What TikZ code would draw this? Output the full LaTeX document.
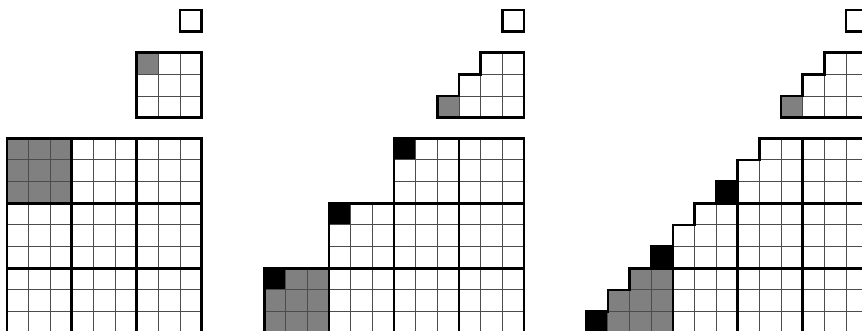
\documentclass[tikz,border=0pt]{standalone}
\begin{document}
\begin{tikzpicture}[x=0.75pt,y=-0.75pt,
  thinl/.style={line width=0.7pt, draw=black!70},
  thickl/.style={line width=2pt, draw=black, line join=miter},
  grayc/.style={fill=black!50},
  blackc/.style={fill=black},
  cellunit/.style={x=16.2375pt,y=-16.2375pt}]
\useasboundingbox (0,0) rectangle (862,331);
\clip (0,0) rectangle (862,331);

% ---------------- Panel 1 ----------------
\begin{scope}[shift={(180.05,10)},cellunit]
  \draw[thickl] (0,0) rectangle (1,1);
\end{scope}
\begin{scope}[shift={(136.75,52.7)},cellunit]
  \fill[grayc] (0,0) rectangle (1,1);
  \foreach \i in {1,2}{\draw[thinl] (\i,0)--(\i,3); \draw[thinl] (0,\i)--(3,\i);}
  \draw[thickl] (0,0) rectangle (3,3);
\end{scope}
\begin{scope}[shift={(6.85,138.3)},cellunit]
  \fill[grayc] (0,0) rectangle (3,3);
  \foreach \i in {1,...,8}{\draw[thinl] (\i,0)--(\i,9); \draw[thinl] (0,\i)--(9,\i);}
  \foreach \i in {3,6}{\draw[thickl] (\i,0)--(\i,9); \draw[thickl] (0,\i)--(9,\i);}
  \draw[thickl] (0,0) rectangle (9,9);
\end{scope}

% ---------------- Panel 2 ----------------
\begin{scope}[shift={(502.35,10)},cellunit]
  \draw[thickl] (0,0) rectangle (1,1);
\end{scope}
\begin{scope}[shift={(437.4,52.7)},cellunit]
  \fill[grayc] (0,2) rectangle (1,3);
  \draw[thinl] (1,2)--(1,3) (2,1)--(2,3) (3,0)--(3,3) (2,1)--(4,1) (1,2)--(4,2);
  \draw[thickl] (4,0)--(2,0)--(2,1)--(1,1)--(1,2)--(0,2)--(0,3)--(4,3)--cycle;
\end{scope}
\begin{scope}[shift={(264.2,138.3)},cellunit]
  \fill[grayc] (0,6) rectangle (3,9);
  \fill[blackc] (0,6) rectangle (1,7);
  \fill[blackc] (3,3) rectangle (4,4);
  \fill[blackc] (6,0) rectangle (7,1);
  \foreach \r in {0,...,8}{
    \pgfmathtruncatemacro{\cz}{3*(2-floor(\r/3))}
    \foreach \c in {\cz,...,11}{\draw[thinl] (\c,\r) rectangle ++(1,1);}
  }
  \draw[thickl] (6,3)--(6,9) (9,0)--(9,9) (3,6)--(3,9) (6,3)--(12,3) (3,6)--(12,6);
  \draw[thickl] (12,0)--(6,0)--(6,3)--(3,3)--(3,6)--(0,6)--(0,9)--(12,9)--cycle;
\end{scope}

% ---------------- Panel 3 ----------------
\begin{scope}[shift={(846.05,10)},cellunit]
  \draw[thickl] (0,0) rectangle (1,1);
\end{scope}
\begin{scope}[shift={(781.1,52.7)},cellunit]
  \fill[grayc] (0,2) rectangle (1,3);
  \draw[thinl] (1,2)--(1,3) (2,1)--(2,3) (3,0)--(3,3) (2,1)--(4,1) (1,2)--(4,2);
  \draw[thickl] (4,0)--(2,0)--(2,1)--(1,1)--(1,2)--(0,2)--(0,3)--(4,3)--cycle;
\end{scope}
\begin{scope}[shift={(586.25,138.3)},cellunit]
  \fill[grayc] (2,6) rectangle (4,7);
  \fill[grayc] (1,7) rectangle (4,9);
  \fill[blackc] (0,8) rectangle (1,9);
  \fill[blackc] (3,5) rectangle (4,6);
  \fill[blackc] (6,2) rectangle (7,3);
  \foreach \r in {0,...,8}{
    \pgfmathtruncatemacro{\cz}{8-\r}
    \foreach \c in {\cz,...,12}{\draw[thinl] (\c,\r) rectangle ++(1,1);}
  }
  \draw[thickl] (4,5)--(4,9) (7,2)--(7,9) (10,0)--(10,9) (6,3)--(13,3) (3,6)--(13,6);
  \draw[thickl] (13,0)--(8,0)--(8,1)--(7,1)--(7,2)--(6,2)--(6,3)--(5,3)--(5,4)--(4,4)--(4,5)--(3,5)--(3,6)--(2,6)--(2,7)--(1,7)--(1,8)--(0,8)--(0,9)--(13,9)--cycle;
\end{scope}
\end{tikzpicture}
\end{document}
